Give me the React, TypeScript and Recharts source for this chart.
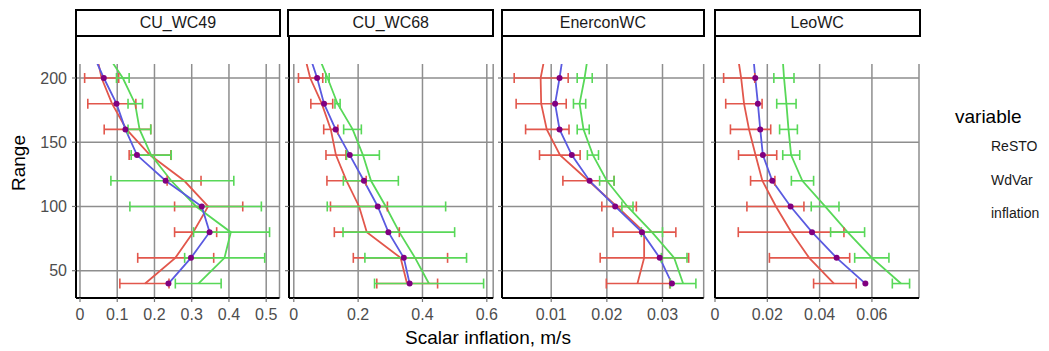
import React from 'react';
import { ComposedChart, Line, XAxis, YAxis, CartesianGrid, ErrorBar, ReferenceLine } from 'recharts';

// ---------- data ----------
const ranges = [220, 200, 180, 160, 140, 120, 100, 80, 60, 40];
const rangeTicks = [50, 100, 150, 200];
const panelNames = ['CU_WC49', 'CU_WC68', 'EnerconWC', 'LeoWC'];
const seriesNames = ['ReSTO', 'WdVar', 'inflation'];

// CU_WC49
const cu49Resto = [0.043, 0.058, 0.086, 0.125, 0.188, 0.28, 0.344, 0.304, 0.256, 0.175];
const cu49RestoLo = [null, 0.0125, 0.021, 0.065, 0.132, 0.234, 0.254, 0.254, 0.155, 0.107];
const cu49RestoHi = [null, 0.104, 0.15, 0.19, 0.244, 0.325, 0.437, 0.367, 0.359, 0.239];
const cu49Wdvar = [0.069, 0.115, 0.148, 0.16, 0.191, 0.245, 0.312, 0.405, 0.388, 0.318];
const cu49WdvarLo = [null, 0.098, 0.129, 0.129, 0.1375, 0.083, 0.134, 0.305, 0.281, 0.256];
const cu49WdvarHi = [null, 0.132, 0.168, 0.19, 0.245, 0.413, 0.487, 0.509, 0.496, 0.379];
const cu49Infl = [0.033, 0.064, 0.098, 0.122, 0.153, 0.23, 0.327, 0.348, 0.298, 0.2375];

// CU_WC68
const cu68Resto = [0.031, 0.051, 0.087, 0.115, 0.131, 0.164, 0.203, 0.227, 0.332, 0.352];
const cu68RestoLo = [null, 0.0145, 0.053, 0.093, 0.1, 0.103, 0.114, 0.126, 0.185, 0.258];
const cu68RestoHi = [null, 0.09, 0.121, 0.137, 0.162, 0.225, 0.291, 0.328, 0.478, 0.447];
const cu68Wdvar = [0.072, 0.105, 0.136, 0.183, 0.215, 0.24, 0.286, 0.328, 0.377, 0.42];
const cu68WdvarLo = [null, 0.0995, 0.128, 0.155, 0.164, 0.154, 0.104, 0.153, 0.221, 0.251];
const cu68WdvarHi = [null, 0.11, 0.144, 0.21, 0.266, 0.325, 0.472, 0.5, 0.537, 0.59];
const cu68Infl = [0.046, 0.0725, 0.094, 0.13, 0.174, 0.218, 0.261, 0.294, 0.342, 0.36];

// EnerconWC
const enResto = [0.009, 0.0081, 0.0082, 0.0092, 0.0116, 0.0167, 0.0218, 0.0267, 0.0267, 0.0255];
const enRestoLo = [null, 0.00335, 0.0037, 0.0054, 0.0079, 0.0121, 0.0191, 0.0211, 0.0188, 0.0199];
const enRestoHi = [null, 0.01305, 0.0127, 0.0132, 0.0152, 0.0213, 0.0253, 0.0324, 0.0347, 0.0313];
const enWdvar = [0.0167, 0.016, 0.0151, 0.0158, 0.0175, 0.02, 0.0237, 0.0281, 0.0321, 0.0337];
const enWdvarLo = [null, 0.01467, 0.014, 0.01467, 0.0165, 0.0187, 0.0227, 0.0262, 0.0298, 0.0314];
const enWdvarHi = [null, 0.01737, 0.0162, 0.01683, 0.0185, 0.0213, 0.0247, 0.03, 0.0344, 0.036];
const enInfl = [0.0122, 0.0115, 0.0107, 0.0115, 0.0137, 0.0169, 0.0215, 0.0263, 0.0295, 0.0317];

// LeoWC
const leoResto = [0.0085, 0.01, 0.0111, 0.013, 0.0155, 0.0181, 0.0233, 0.0292, 0.036, 0.0455];
const leoRestoLo = [null, 0.0033, 0.0041, 0.0059, 0.009, 0.0136, 0.0122, 0.0089, 0.0208, 0.0377];
const leoRestoHi = [null, 0.0152, 0.018, 0.0213, 0.0236, 0.0229, 0.034, 0.0493, 0.0515, 0.054];
const leoWdvar = [0.0257, 0.0264, 0.0273, 0.0281, 0.0291, 0.0334, 0.0421, 0.0507, 0.06, 0.0711];
const leoWdvarLo = [null, 0.0225, 0.0236, 0.0247, 0.0259, 0.0292, 0.0368, 0.0442, 0.0534, 0.0678];
const leoWdvarHi = [null, 0.0302, 0.031, 0.0315, 0.0324, 0.0377, 0.0474, 0.0572, 0.0665, 0.0744];
const leoInfl = [0.0145, 0.0154, 0.0164, 0.0173, 0.0183, 0.0219, 0.0289, 0.0371, 0.0465, 0.0575];

const xTicks49 = [0, 0.1, 0.2, 0.3, 0.4, 0.5];
const xTicks68 = [0, 0.2, 0.4, 0.6];
const xTicksEn = [0.01, 0.02, 0.03];
const xTicksLeo = [0, 0.02, 0.04, 0.06];

// ---------- styling ----------
const RED = '#e2574c';
const GREEN = '#58d858';
const BLUE = '#5a5ae0';
const PURPLE = '#800080';
const GRID = '#8e8e8e';
const TICK_TEXT = '#4d4d4d';
const FONT = '"Liberation Sans", Arial, Helvetica, sans-serif';

const PLOT_TOP = 64;
const PLOT_BOTTOM = 298;
const X_AXIS_H = 44;
const MR = 20;
const Y_DOMAIN: [number, number] = [28.75, 210.9];

type Num = number | null;
function buildRows(resto: Num[], rLo: Num[], rHi: Num[], wd: Num[], wLo: Num[], wHi: Num[], infl: Num[]) {
  return ranges.map((r, i) => ({
    range: r,
    resto: resto[i],
    wdvar: wd[i],
    inflation: infl[i],
    restoErr: rLo[i] == null ? null : [(resto[i] as number) - (rLo[i] as number), (rHi[i] as number) - (resto[i] as number)],
    wdvarErr: wLo[i] == null ? null : [(wd[i] as number) - (wLo[i] as number), (wHi[i] as number) - (wd[i] as number)],
  }));
}

const panels = [
  { name: panelNames[0], left: 76, right: 279.5, domain: [-0.0107, 0.5357], ticks: xTicks49, yw: 76,
    data: buildRows(cu49Resto, cu49RestoLo, cu49RestoHi, cu49Wdvar, cu49WdvarLo, cu49WdvarHi, cu49Infl) },
  { name: panelNames[1], left: 288.5, right: 492.7, domain: [-0.0149, 0.6198], ticks: xTicks68, yw: 12,
    data: buildRows(cu68Resto, cu68RestoLo, cu68RestoHi, cu68Wdvar, cu68WdvarLo, cu68WdvarHi, cu68Infl) },
  { name: panelNames[2], left: 501.8, right: 703.5, domain: [0.00116, 0.0374], ticks: xTicksEn, yw: 12,
    data: buildRows(enResto, enRestoLo, enRestoHi, enWdvar, enWdvarLo, enWdvarHi, enInfl) },
  { name: panelNames[3], left: 715, right: 919, domain: [0, 0.078], ticks: xTicksLeo, yw: 12,
    data: buildRows(leoResto, leoRestoLo, leoRestoHi, leoWdvar, leoWdvarLo, leoWdvarHi, leoInfl) },
];

function Panel({ p, first }: { p: any; first: boolean }) {
  const plotW = p.right - p.left;
  const width = p.yw + plotW + MR;
  const height = PLOT_BOTTOM - PLOT_TOP + X_AXIS_H;
  return (
    <>
      <div
        style={{
          position: 'absolute', left: p.left - 1.3, top: 9.3, width: plotW + 3, height: 28,
          border: '2px solid #000', boxSizing: 'border-box', background: '#fff',
          display: 'flex', alignItems: 'center', justifyContent: 'center',
          fontSize: 16, color: '#1a1a1a', fontFamily: FONT,
        }}
      >
        {p.name}
      </div>
      <div style={{ position: 'absolute', left: p.left - 1, top: 37, width: 2, height: PLOT_TOP - 37 + 1, background: '#000' }} />
      <div style={{ position: 'absolute', left: p.left - p.yw, top: PLOT_TOP }}>
        <ComposedChart width={width} height={height} data={p.data} layout="vertical"
          margin={{ top: 0, right: MR, bottom: 0, left: 0 }} style={{ fontFamily: FONT }}>
          <CartesianGrid stroke={GRID} strokeWidth={1.5} horizontal={false} />
          {rangeTicks.map((t) => (
            <ReferenceLine key={t} y={t} stroke={GRID} strokeWidth={1.5} />
          ))}
          <XAxis type="number" domain={p.domain} ticks={p.ticks} allowDataOverflow interval={0}
            height={X_AXIS_H} axisLine={{ stroke: '#000', strokeWidth: 2 }}
            tickLine={{ stroke: '#777', strokeWidth: 1.2 }} tickSize={4} tickMargin={7}
            tick={{ fill: TICK_TEXT, fontSize: 16 }} />
          <YAxis type="number" dataKey="range" domain={Y_DOMAIN} ticks={rangeTicks} allowDataOverflow interval={0}
            reversed
            width={p.yw} axisLine={{ stroke: '#000', strokeWidth: 2 }}
            tickLine={{ stroke: '#777', strokeWidth: 1.2 }} tickSize={4} tickMargin={5}
            tick={{ fill: TICK_TEXT, fontSize: 16 }}
            tickFormatter={first ? undefined : () => ''} />
          <Line type="linear" dataKey="resto" stroke={RED} strokeWidth={1.8} dot={false} activeDot={false} isAnimationActive={false} />
          <Line type="linear" dataKey="wdvar" stroke={GREEN} strokeWidth={1.8} dot={false} activeDot={false} isAnimationActive={false} />
          <Line type="linear" dataKey="inflation" stroke={BLUE} strokeWidth={1.8} dot={false} activeDot={false} isAnimationActive={false} />
          <Line type="linear" dataKey="resto" stroke="none" dot={false} activeDot={false} isAnimationActive={false}>
            <ErrorBar dataKey="restoErr" direction="x" stroke={RED} strokeWidth={1.6} width={5} isAnimationActive={false} />
          </Line>
          <Line type="linear" dataKey="wdvar" stroke="none" dot={false} activeDot={false} isAnimationActive={false}>
            <ErrorBar dataKey="wdvarErr" direction="x" stroke={GREEN} strokeWidth={1.6} width={5} isAnimationActive={false} />
          </Line>
          <Line type="linear" dataKey="inflation" stroke="none" activeDot={false} isAnimationActive={false}
            dot={{ r: 3, fill: PURPLE, stroke: 'none' }} />
        </ComposedChart>
      </div>
    </>
  );
}

export default function App() {
  return (
    <div style={{ position: 'absolute', left: 0, top: 0, width: 1049, height: 351, background: '#fff', fontFamily: FONT, overflow: 'hidden' }}>
      {panels.map((p, i) => (
        <Panel key={p.name} p={p} first={i === 0} />
      ))}
      <svg width={1049} height={351} style={{ position: 'absolute', left: 0, top: 0, pointerEvents: 'none' }}>
        <text x={18} y={163} transform="rotate(-90 18 163)" textAnchor="middle" dominantBaseline="central"
          fontSize={19} fill="#000" fontFamily={FONT}>Range</text>
        <text x={488} y={337} textAnchor="middle" dominantBaseline="central" fontSize={19} fill="#000" fontFamily={FONT}>
          Scalar inflation, m/s
        </text>
        <text x={955} y={123} fontSize={19} fill="#000" fontFamily={FONT}>variable</text>
        {seriesNames.map((s, i) => (
          <text key={s} x={991} y={151 + i * 33.5} fontSize={14} fill="#1a1a1a" fontFamily={FONT}>{s}</text>
        ))}
      </svg>
    </div>
  );
}
